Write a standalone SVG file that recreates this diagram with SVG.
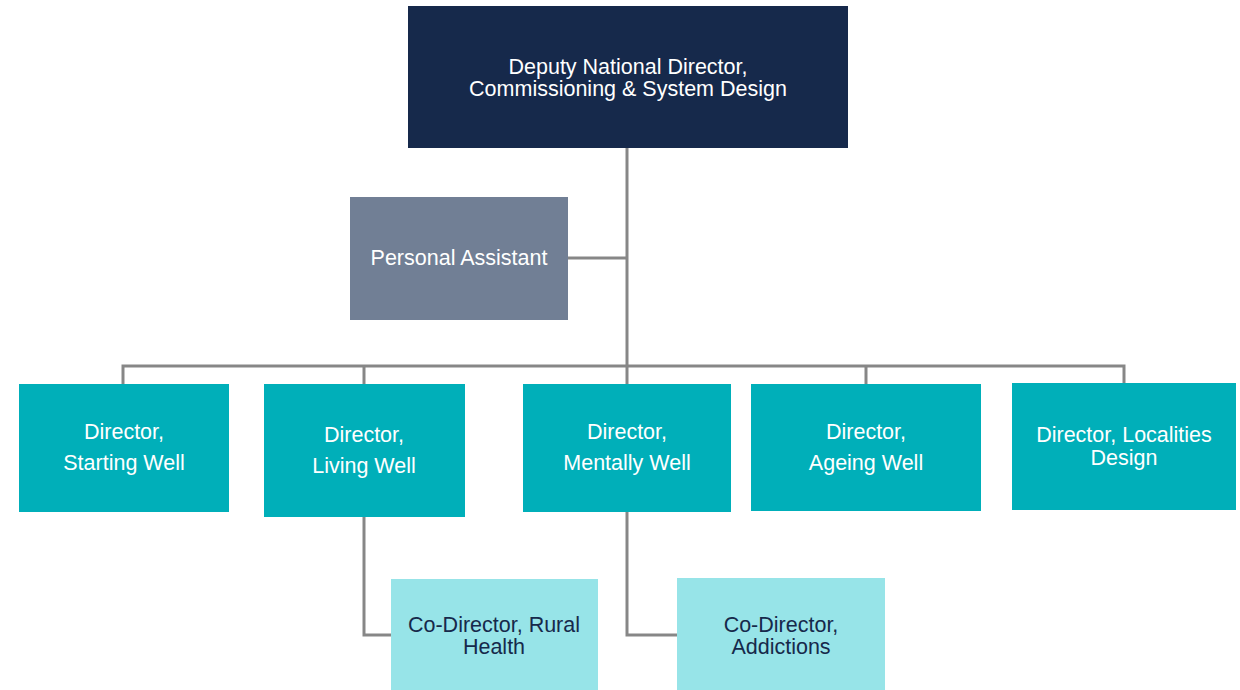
<svg xmlns="http://www.w3.org/2000/svg" width="1240" height="690" viewBox="0 0 1240 690">
<style>
text{font-family:"Liberation Sans",Arial,sans-serif;font-size:21.5px;text-anchor:middle}
.w{fill:#ffffff}
.d{fill:#16294b}
.teal{fill:#00afb9}
.light{fill:#97e4e8}
.conn{fill:none;stroke:#878787;stroke-width:3}
</style>
<rect width="1240" height="690" fill="#ffffff"/>
<g id="connectors">
<path class="conn" d="M627 148V366M568 258H627M123 384V366H1124V384M364 366V384M627 366V384M866 366V384"/>
<path class="conn" d="M364 517V635H391M627 512V635H677"/>
</g>
<g id="deputy">
<rect x="408" y="6" width="440" height="142" fill="#16294b"/>
<text class="w" x="628" y="74">Deputy National Director,</text>
<text class="w" x="628" y="96">Commissioning &amp; System Design</text>
</g>
<g id="pa">
<rect x="350" y="197" width="218" height="123" fill="#717f95"/>
<text class="w" x="459" y="265">Personal Assistant</text>
</g>
<g id="starting">
<rect class="teal" x="19" y="384" width="210" height="128"/>
<text class="w" x="124" y="439">Director,</text>
<text class="w" x="124" y="470">Starting Well</text>
</g>
<g id="living">
<rect class="teal" x="264" y="384" width="201" height="133"/>
<text class="w" x="364" y="442">Director,</text>
<text class="w" x="364" y="473">Living Well</text>
</g>
<g id="mentally">
<rect class="teal" x="523" y="384" width="208" height="128"/>
<text class="w" x="627" y="439">Director,</text>
<text class="w" x="627" y="470">Mentally Well</text>
</g>
<g id="ageing">
<rect class="teal" x="751" y="384" width="230" height="127"/>
<text class="w" x="866" y="439">Director,</text>
<text class="w" x="866" y="470">Ageing Well</text>
</g>
<g id="localities">
<rect class="teal" x="1012" y="383" width="224" height="127"/>
<text class="w" x="1124" y="442">Director, Localities</text>
<text class="w" x="1124" y="465">Design</text>
</g>
<g id="rural">
<rect class="light" x="391" y="579" width="207" height="111"/>
<text class="d" x="494" y="632">Co-Director, Rural</text>
<text class="d" x="494" y="654">Health</text>
</g>
<g id="addictions">
<rect class="light" x="677" y="578" width="208" height="112"/>
<text class="d" x="781" y="632">Co-Director,</text>
<text class="d" x="781" y="654">Addictions</text>
</g>
</svg>
